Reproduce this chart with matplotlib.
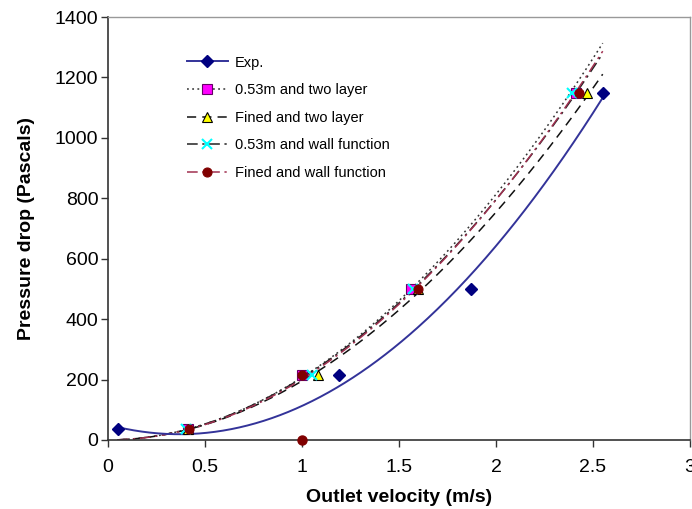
import numpy as np
import matplotlib
matplotlib.use("Agg")
import matplotlib.pyplot as plt
from matplotlib.lines import Line2D

plt.rcParams['font.family'] = ['Liberation Sans', 'DejaVu Sans']

# ---- data ----
pressure = [35, 215, 500, 1150]

exp_x = [0.05, 1.19, 1.87, 2.55]
exp_y = pressure

two_layer_053_x = [0.41, 1.00, 1.56, 2.41]
two_layer_fine_x = [0.41, 1.08, 1.60, 2.47]
wall_053_x = [0.40, 1.05, 1.57, 2.39]
wall_fine_x = [0.42, 1.00, 1.60, 2.43]

wall_fine_extra_x = [1.00]
wall_fine_extra_y = [0]

labels = ["Exp.", "0.53m and two layer", "Fined and two layer",
          "0.53m and wall function", "Fined and wall function"]

x_ticks = [0, 0.5, 1, 1.5, 2, 2.5, 3]
x_ticklabels = ["0", "0.5", "1", "1.5", "2", "2.5", "3"]
y_ticks = [0, 200, 400, 600, 800, 1000, 1200, 1400]

# ---- figure ----
fig = plt.figure(figsize=(6.92, 5.09), dpi=100)
ax = fig.add_axes([108/692, 1-440/509, (690-108)/692, (440-17)/509])

xs = np.linspace(min(exp_x), max(exp_x), 300)

# Exp: quadratic trendline
coef = np.polyfit(exp_x, exp_y, 2)
ax.plot(xs, np.polyval(coef, xs), color='#333399', lw=1.4, zorder=3)


def power_fit(x, y):
    b, lna = np.polyfit(np.log(x), np.log(y), 1)
    return np.exp(lna) * xs ** b


navy = '#000080'
ax.plot(exp_x, exp_y, linestyle='none', marker='D', ms=6, color=navy, zorder=5)

styles = [
    dict(x=two_layer_053_x, ls=(0, (1.2, 2.2)), lc='#333333',
         marker='s', mfc='#FF00FF', mec='#660066', ms=6.5),
    dict(x=two_layer_fine_x, ls=(0, (6, 4)), lc='#111111',
         marker='^', mfc='#FFFF00', mec='#000000', ms=7.5),
    dict(x=wall_053_x, ls=(0, (7, 3, 1.5, 3)), lc='#222222',
         marker='x', mfc='#00FFFF', mec='#00FFFF', ms=6.5),
    dict(x=wall_fine_x, ls=(0, (7, 3, 1.5, 3)), lc='#A03050',
         marker='o', mfc='#800000', mec='#800000', ms=6.5),
]

for s in styles:
    ax.plot(xs, power_fit(s['x'], pressure), linestyle=s['ls'], color=s['lc'],
            lw=1.1, zorder=2)
    ax.plot(s['x'], pressure, linestyle='none', marker=s['marker'], ms=s['ms'],
            mfc=s['mfc'], mec=s['mec'], mew=1.5 if s['marker'] == 'x' else 0.8,
            zorder=4)

ax.plot(wall_fine_extra_x, wall_fine_extra_y, linestyle='none', marker='o', ms=6.5,
        mfc='#800000', mec='#800000', zorder=6, clip_on=False)

# legend handles
handles = [Line2D([], [], color='#333399', lw=1.4, marker='D', ms=6, mfc=navy, mec=navy)]
for s in styles:
    handles.append(Line2D([], [], linestyle=s['ls'], color=s['lc'], lw=1.1,
                          marker=s['marker'], ms=s['ms'], mfc=s['mfc'], mec=s['mec'],
                          mew=1.5 if s['marker'] == 'x' else 0.8))
leg = ax.legend(handles, labels, loc='upper left', bbox_to_anchor=(0.113, 0.94),
                frameon=False, fontsize=10.5, handlelength=2.8, labelspacing=0.93,
                handletextpad=0.5)

ax.set_xlim(0, 3)
ax.set_ylim(0, 1400)
ax.set_xticks(x_ticks)
ax.set_xticklabels(x_ticklabels)
ax.set_yticks(y_ticks)
ax.tick_params(axis='both', labelsize=14, direction='out', length=5, width=1,
               color='#333333', pad=2)
ax.tick_params(axis='x', pad=9)

for side in ['left', 'bottom']:
    ax.spines[side].set_color('#333333')
    ax.spines[side].set_linewidth(1.2)
for side in ['top', 'right']:
    ax.spines[side].set_color('#999999')
    ax.spines[side].set_linewidth(1.0)

ax.set_xlabel("Outlet velocity (m/s)", fontsize=14, fontweight='bold', labelpad=9)
ax.set_ylabel("Pressure drop (Pascals)", fontsize=14, fontweight='bold', labelpad=14)

fig.savefig("out.png", dpi=100)
